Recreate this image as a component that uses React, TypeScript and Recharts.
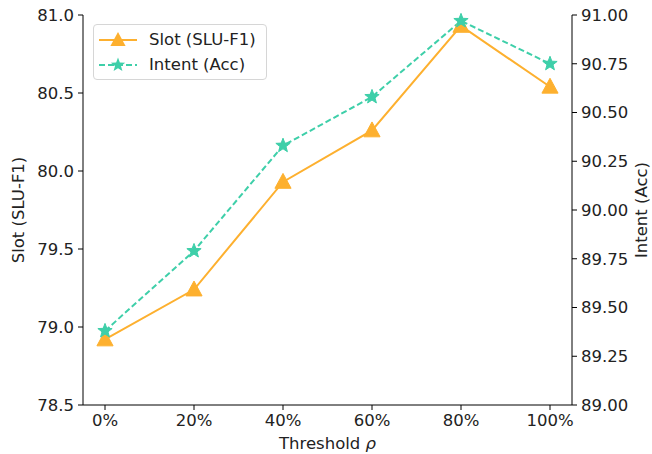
import React from 'react';
import { LineChart, Line, XAxis, YAxis } from 'recharts';

const thresholds = ['0%', '20%', '40%', '60%', '80%', '100%'];
const slotF1 = [78.92, 79.24, 79.93, 80.26, 80.93, 80.54];
const intentAcc = [89.38, 89.79, 90.33, 90.58, 90.97, 90.75];
const slotTicks = [78.5, 79.0, 79.5, 80.0, 80.5, 81.0];
const intentTicks = [89.0, 89.25, 89.5, 89.75, 90.0, 90.25, 90.5, 90.75, 91.0];

const ORANGE = '#FDB02F';
const TEAL = '#3ECFA9';
const FONT = 'DejaVu Sans';
const FS = 16.5;

const data = thresholds.map((t, i) => ({ t, slot: slotF1[i], intent: intentAcc[i] }));

const triPath = (cx: number, cy: number, r: number) =>
  `M${cx},${cy - r}L${cx + r * 0.95},${cy + r * 0.75}L${cx - r * 0.95},${cy + r * 0.75}Z`;

const starPath = (cx: number, cy: number, R: number) => {
  const r = R * 0.42;
  let d = '';
  for (let i = 0; i < 10; i++) {
    const a = -Math.PI / 2 + (i * Math.PI) / 5;
    const rad = i % 2 === 0 ? R : r;
    d += `${i === 0 ? 'M' : 'L'}${cx + rad * Math.cos(a)},${cy + rad * Math.sin(a)}`;
  }
  return d + 'Z';
};

const TriDot = (p: any) =>
  p.cx == null ? null : <path key={p.index} d={triPath(p.cx, p.cy, 8.5)} fill={ORANGE} stroke={ORANGE} />;
const StarDot = (p: any) =>
  p.cx == null ? null : <path key={p.index} d={starPath(p.cx, p.cy, 7.5)} fill={TEAL} stroke={TEAL} />;

const LegendBox = () => (
  <div
    style={{
      position: 'absolute',
      left: 93,
      top: 24,
      width: 174,
      height: 56,
      boxSizing: 'border-box',
      border: '1px solid #d6d6d6',
      borderRadius: 4,
      background: 'rgba(255,255,255,0.8)',
      padding: '2px 0 0 4px',
      fontFamily: FONT,
      fontSize: FS,
      color: '#222',
      lineHeight: '25px',
    }}
  >
    <div style={{ display: 'flex', alignItems: 'center' }}>
      <svg width={40} height={22}>
        <line x1={1} y1={11} x2={39} y2={11} stroke={ORANGE} strokeWidth={2} />
        <path d={triPath(20, 11, 8)} fill={ORANGE} />
      </svg>
      <span style={{ marginLeft: 11 }}>Slot (SLU-F1)</span>
    </div>
    <div style={{ display: 'flex', alignItems: 'center' }}>
      <svg width={40} height={22}>
        <line x1={1} y1={11} x2={39} y2={11} stroke={TEAL} strokeWidth={2} strokeDasharray="6 3" />
        <path d={starPath(20, 11, 7.5)} fill={TEAL} />
      </svg>
      <span style={{ marginLeft: 11 }}>Intent (Acc)</span>
    </div>
  </div>
);

const tickStyle = { fill: '#222', fontSize: FS, fontFamily: FONT };

export default function App() {
  return (
    <div style={{ position: 'fixed', left: 0, top: 0, width: 652, height: 454, background: '#fff' }}>
      <LineChart width={652} height={454} data={data} margin={{ top: 15, right: 0, bottom: 0, left: 0 }}>
        <XAxis
          dataKey="t"
          padding={{ left: 22, right: 22 }}
          tick={tickStyle}
          tickSize={5}
          tickMargin={4}
          stroke="#000"
          height={49}
          interval={0}
          label={(props: any) => {
            const vb = props.viewBox;
            return (
              <text x={vb.x + vb.width / 2} y={449} textAnchor="middle" fontSize={FS} fontFamily={FONT} fill="#222">
                Threshold <tspan fontStyle="italic">ρ</tspan>
              </text>
            );
          }}
        />
        <XAxis xAxisId="top" dataKey="t" orientation="top" height={0} tick={false} tickLine={false} stroke="#000" />
        <YAxis
          yAxisId="left"
          domain={[78.5, 81.0]}
          ticks={slotTicks}
          tickFormatter={(v: number) => v.toFixed(1)}
          tick={tickStyle}
          tickSize={5}
          tickMargin={4}
          stroke="#000"
          width={83}
          label={(props: any) => {
            const vb = props.viewBox;
            const cy = vb.y + vb.height / 2;
            return (
              <text x={24} y={cy} transform={`rotate(-90 24 ${cy})`} textAnchor="middle" fontSize={FS} fontFamily={FONT} fill="#222">
                Slot (SLU-F1)
              </text>
            );
          }}
        />
        <YAxis
          yAxisId="right"
          orientation="right"
          domain={[89.0, 91.0]}
          ticks={intentTicks}
          tickFormatter={(v: number) => v.toFixed(2)}
          tick={tickStyle}
          tickSize={5}
          tickMargin={4}
          stroke="#000"
          width={80}
          label={(props: any) => {
            const vb = props.viewBox;
            const cy = vb.y + vb.height / 2;
            return (
              <text x={647} y={cy} transform={`rotate(-90 647 ${cy})`} textAnchor="middle" fontSize={FS} fontFamily={FONT} fill="#222">
                Intent (Acc)
              </text>
            );
          }}
        />
        <Line
          yAxisId="left"
          dataKey="slot"
          stroke={ORANGE}
          strokeWidth={2}
          dot={TriDot}
          activeDot={false}
          isAnimationActive={false}
        />
        <Line
          yAxisId="right"
          dataKey="intent"
          stroke={TEAL}
          strokeWidth={2}
          strokeDasharray="6 3"
          dot={StarDot}
          activeDot={false}
          isAnimationActive={false}
        />
      </LineChart>
      <LegendBox />
    </div>
  );
}
